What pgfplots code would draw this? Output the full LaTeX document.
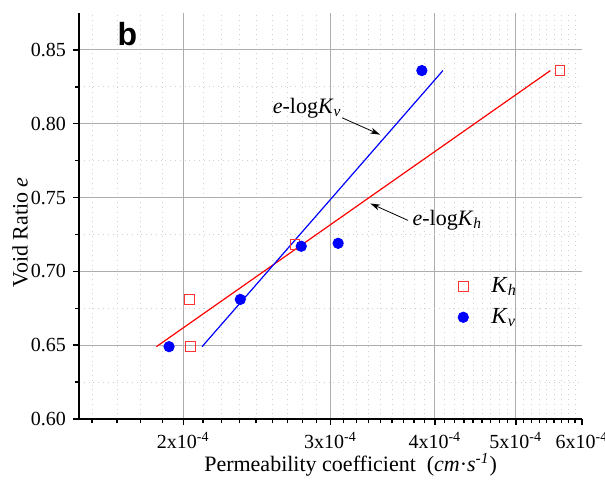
\documentclass[border=0pt]{standalone}
\usepackage{fontspec}
\setmainfont{Liberation Serif}
\newfontfamily\arialb{Liberation Sans}
\usepackage{pgfplots}
\pgfplotsset{compat=1.18}
\usetikzlibrary{calc,arrows.meta}

\begin{document}
\begin{tikzpicture}
\begin{axis}[
  name=ax,
  scale only axis, width=251.5pt, height=203pt,
  xmode=log, log basis x=10,
  xmin=1.5e-4, xmax=6e-4, ymin=0.6, ymax=0.875,
  axis x line*=bottom, axis y line*=left,
  axis line style={line width=1pt, black},
  xtick={2e-4,3e-4,4e-4,5e-4},
  xticklabels={2x10\textsuperscript{-4},3x10\textsuperscript{-4},4x10\textsuperscript{-4},5x10\textsuperscript{-4}},
  extra x ticks={6e-4},
  extra x tick labels={6x10\textsuperscript{-4}},
  extra x tick style={grid=none},
  minor xtick={1.5556e-4,1.6667e-4,1.7778e-4,1.8889e-4,
    2.1111e-4,2.2222e-4,2.3333e-4,2.4444e-4,2.5556e-4,2.6667e-4,2.7778e-4,2.8889e-4,
    3.1111e-4,3.2222e-4,3.3333e-4,3.4444e-4,3.5556e-4,3.6667e-4,3.7778e-4,3.8889e-4,
    4.1111e-4,4.2222e-4,4.3333e-4,4.4444e-4,4.5556e-4,4.6667e-4,4.7778e-4,4.8889e-4,
    5.1111e-4,5.2222e-4,5.3333e-4,5.4444e-4,5.5556e-4,5.6667e-4,5.7778e-4,5.8889e-4},
  ytick={0.60,0.65,0.70,0.75,0.80,0.85},
  yticklabels={0.60,0.65,0.70,0.75,0.80,0.85},
  minor ytick={0.625,0.675,0.725,0.775,0.825},
  tick align=outside,
  major tick length=3pt, minor tick length=2pt,
  every tick/.style={black, line width=0.7pt},
  grid=both,
  major grid style={black!32, line width=0.5pt},
  minor grid style={black!18, dotted, line width=0.4pt},
  tick label style={font=\fontsize{10}{12}\selectfont},
  xlabel={Permeability coefficient\ \ (\textit{cm}·\textit{s}\textsuperscript{\textit{-1}})},
  ylabel={Void Ratio \textit{e}},
  label style={font=\fontsize{11}{13}\selectfont},
  xlabel style={at={(axis description cs:0.54,-0.113)}, anchor=center},
  ylabel style={at={(axis description cs:-0.117,0.46)}, anchor=center},
  legend style={at={(0.741,0.37)}, anchor=north west, draw=none, fill=none,
    font=\fontsize{11.5}{13}\selectfont, row sep=2.5pt,
    /tikz/every odd column/.append style={column sep=9.5pt}},
  legend cell align=left,
  clip=false,
]
\addplot[red, line width=0.6pt, forget plot] coordinates {(1.857e-4,0.649) (5.50e-4,0.836)};
\addplot[blue, line width=0.6pt, forget plot] coordinates {(2.106e-4,0.649) (4.09e-4,0.836)};
\addplot[only marks, mark=square, mark size=2.4pt, mark options={draw=red!80!white, line width=0.5pt, fill=white}]
  coordinates {(2.033e-4,0.681) (2.039e-4,0.649) (2.722e-4,0.718) (5.65e-4,0.836)};
\addlegendentry{\textit{K}\textsubscript{\textit{h}}}
\addplot[only marks, mark=*, mark size=2.6pt, mark options={draw=blue, fill=blue}]
  coordinates {(1.923e-4,0.649) (2.340e-4,0.681) (2.768e-4,0.717) (3.064e-4,0.719) (3.86e-4,0.836)};
\addlegendentry{\textit{K}\textsubscript{\textit{v}}}

\node[font=\fontsize{11}{13}\selectfont] at (axis cs:2.814e-4,0.8108) {\textit{e}-log\textit{K}\textsubscript{\textit{v}}};
\draw[-{Stealth[length=5pt,width=3pt]}, line width=0.4pt] (axis cs:3.098e-4,0.804) -- (axis cs:3.44e-4,0.7926);
\node[font=\fontsize{11}{13}\selectfont] at (axis cs:4.14e-4,0.7345) {\textit{e}-log\textit{K}\textsubscript{\textit{h}}};
\draw[-{Stealth[length=5pt,width=3pt]}, line width=0.4pt] (axis cs:3.716e-4,0.7345) -- (axis cs:3.348e-4,0.746);
\node[font={\fontsize{16}{18}\arialb\bfseries}] at (axis cs:1.714e-4,0.8608) {b};
\end{axis}
\pgfresetboundingbox
\path[use as bounding box] ($(ax.south west)+(-39.5pt,-31.5pt)$) rectangle ($(ax.south west)+(263pt,209.5pt)$);
\end{tikzpicture}
\end{document}
